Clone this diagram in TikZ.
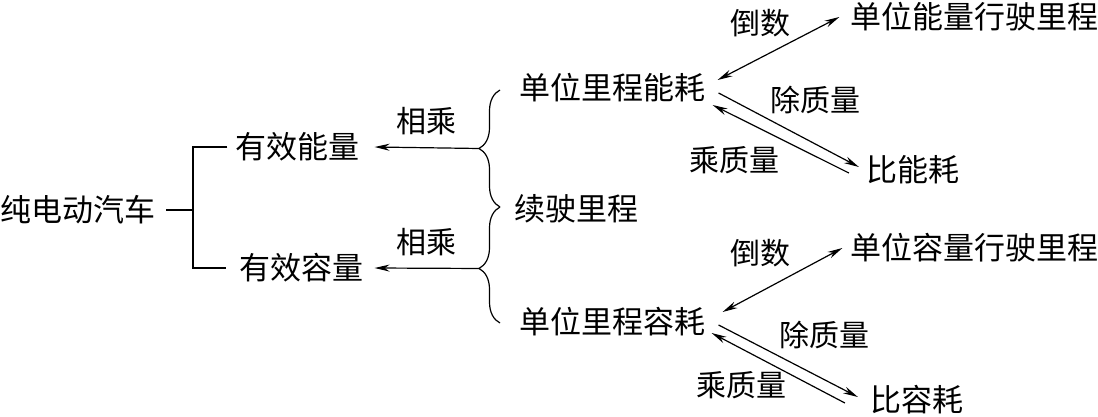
\documentclass[tikz,border=0pt]{standalone}
\usepackage{fontspec}
\setmainfont{Noto Sans CJK SC}
\usetikzlibrary{arrows.meta,decorations.pathreplacing}

\begin{document}
\begin{tikzpicture}[x=1pt,y=-1pt,line width=1.2pt,
    every node/.style={font=\fontsize{31}{31}\selectfont, inner sep=0pt},
    lbl/.style={font=\fontsize{30}{30}\selectfont},
    arr/.style={-{Stealth[length=15pt,width=7pt]}},
    darr/.style={{Stealth[length=15pt,width=7pt]}-{Stealth[length=15pt,width=7pt]}},
    brc/.style={decorate, decoration={brace, amplitude=21pt, #1}},
    brc/.default={aspect=0.5}]
        \useasboundingbox (0,0) rectangle (1098,417);
        % texts
        \node (car) at (78,210) {纯电动汽车};
        \node (energy) at (297,147) {有效能量};
        \node (capacity) at (301,268) {有效容量};
        \node (econs) at (612,88) {单位里程能耗};
        \node (range) at (576,209) {续驶里程};
        \node (ccons) at (612,322) {单位里程容耗};
        \node (erange) at (974,17) {单位能量行驶里程};
        \node (espec) at (913,170) {比能耗};
        \node (crange) at (974,248) {单位容量行驶里程};
        \node (cspec) at (917,400) {比容耗};

        % tree
        \coordinate (fork) at (193,210);
        \draw ([xshift=10pt]car.east) -- (fork);
        \draw ([xshift=-7pt]energy.west) -| (fork) |- ([xshift=-12pt]capacity.west);

        % braces
        \draw[brc] (500,207) -- (500,90) coordinate[pos=0.5] (emid);
        \draw[brc={aspect=0.47}] (500,323) -- (500,207) coordinate[pos=0.47] (cmid);
        \coordinate (etip) at ([xshift=-21pt]emid);
        \coordinate (ctip) at ([xshift=-21pt]cmid);
        \draw[arr] (etip) -- ([xshift=15pt]energy.east) node[lbl, midway, above=12pt]{相乘};
        \draw[arr] (ctip) -- ([xshift=11pt]capacity.east) node[lbl, midway, above=12pt]{相乘};

        % upper arrows
        \draw[darr] ([shift={(12,-8)}]econs.east) -- ([xshift=-10pt]erange.west);
        \node[lbl] (einv) at (760,23) {倒数};
        \draw[arr] ([shift={(13,5)}]econs.east) -- ([shift={(-7,-3)}]espec.west);
        \node[lbl] (ediv) at (815,100) {除质量};
        \draw[arr] ([shift={(-17,3)}]espec.west) -- ([shift={(7,17)}]econs.east);
        \node[lbl] (emul) at (734,160) {乘质量};

        % lower arrows
        \draw[darr] ([shift={(17,-10)}]ccons.east) -- ([xshift=-7pt]crange.west);
        \node[lbl] (cinv) at (760,253) {倒数};
        \draw[arr] ([shift={(13,3)}]ccons.east) -- ([shift={(-12,-3)}]cspec.west);
        \node[lbl] (cdiv) at (824,335) {除质量};
        \draw[arr] ([shift={(-25,3)}]cspec.west) -- ([shift={(6,11)}]ccons.east);
        \node[lbl] (cmul) at (741,385) {乘质量};
\end{tikzpicture}
\end{document}
